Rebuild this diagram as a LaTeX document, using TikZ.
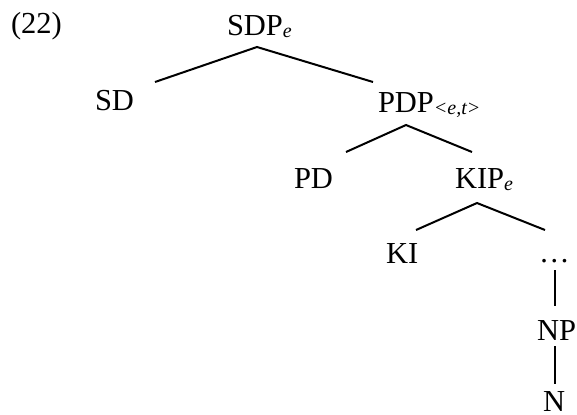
\documentclass[tikz,border=0pt]{standalone}
\usepackage{fontspec}
\setmainfont{Liberation Serif}
\newcommand\lblsub[1]{\raisebox{-0.15ex}{\fontsize{8}{9}\selectfont\itshape #1}}
\begin{document}
\begin{tikzpicture}[x=0.4pt, y=-0.4pt, line width=0.8pt,
    lbl/.style={inner sep=0pt, anchor=base west, font=\fontsize{12.2}{14}\selectfont}]
    \useasboundingbox (0,0) rectangle (577,414);
    % labels
    \node[lbl] (ex) at (10,33) {(22)};
    \node[lbl] (sdp) at (226,35) {SDP\lblsub{e}};
    \node[lbl] (sd) at (94,110) {SD};
    \node[lbl] (pdp) at (377,112) {PDP\lblsub{<e,t>}};
    \node[lbl] (pd) at (293,188) {PD};
    \node[lbl] (kip) at (454,188) {KIP\lblsub{e}};
    \node[lbl] (ki) at (385,263) {KI};
    \node[lbl] (dots) at (538,262) {\dots};
    \node[lbl] (np) at (536,340) {NP};
    \node[lbl] (n) at (542,411) {N};
    % branch points
    \coordinate (sdp-b) at (257,47);
    \coordinate (sd-t) at (155,82);
    \coordinate (pdp-t) at (373,82);
    \coordinate (pdp-b) at (406,125);
    \coordinate (pd-t) at (346,152);
    \coordinate (kip-t) at (472,152);
    \coordinate (kip-b) at (477,203);
    \coordinate (ki-t) at (416,230);
    \coordinate (dots-t) at (545,230);
    \coordinate (dots-b) at (555,270);
    \coordinate (np-t) at (555,306);
    \coordinate (np-b) at (555,346);
    \coordinate (n-t) at (555,384);
    % branches
    \draw (sd-t) -- (sdp-b) -- (pdp-t);
    \draw (pd-t) -- (pdp-b) -- (kip-t);
    \draw (ki-t) -- (kip-b) -- (dots-t);
    \draw (dots-b) -- (np-t);
    \draw (np-b) -- (n-t);
\end{tikzpicture}
\end{document}
